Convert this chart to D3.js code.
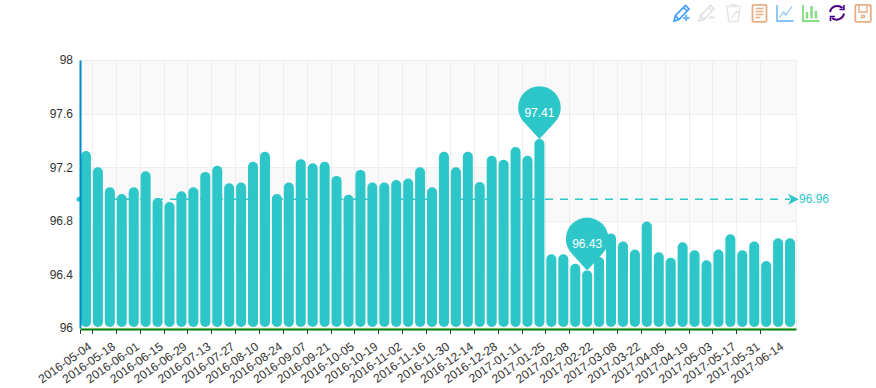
<!DOCTYPE html>
<html>
<head>
<meta charset="utf-8">
<script src="https://cdn.jsdelivr.net/npm/d3@7"></script>
<style>
    html, body { margin: 0; padding: 0; background: #fff; }
    svg { display: block; }
    text { font-family: "Liberation Sans", Arial, sans-serif; }
</style>
</head>
<body>
<div id="chart-container"></div>
<script>
// Weekly values
var weeks = ["2016-05-04","2016-05-11","2016-05-18","2016-05-25","2016-06-01","2016-06-08","2016-06-15","2016-06-22","2016-06-29","2016-07-06",
    "2016-07-13","2016-07-20","2016-07-27","2016-08-03","2016-08-10","2016-08-17","2016-08-24","2016-08-31","2016-09-07","2016-09-14",
    "2016-09-21","2016-09-28","2016-10-05","2016-10-12","2016-10-19","2016-10-26","2016-11-02","2016-11-09","2016-11-16","2016-11-23",
    "2016-11-30","2016-12-07","2016-12-14","2016-12-21","2016-12-28","2017-01-04","2017-01-11","2017-01-18","2017-01-25","2017-02-01",
    "2017-02-08","2017-02-15","2017-02-22","2017-03-01","2017-03-08","2017-03-15","2017-03-22","2017-03-29","2017-04-05","2017-04-12",
    "2017-04-19","2017-04-26","2017-05-03","2017-05-10","2017-05-17","2017-05-24","2017-05-31","2017-06-07","2017-06-14","2017-06-21"];

var values = [97.32,97.2,97.05,97.0,97.05,97.17,96.97,96.94,97.02,97.05,
    97.165,97.21,97.08,97.085,97.24,97.315,97.0,97.085,97.26,97.23,
    97.24,97.135,96.995,97.18,97.085,97.085,97.105,97.115,97.2,97.05,
    97.315,97.2,97.315,97.09,97.285,97.255,97.35,97.285,97.41,96.55,
    96.55,96.48,96.43,96.53,96.705,96.645,96.585,96.795,96.565,96.525,
    96.64,96.58,96.505,96.585,96.7,96.58,96.645,96.5,96.67,96.67];

var yTicks = [96,96.4,96.8,97.2,97.6,98];
var meanValue = 96.96;
var pinWeeks = ["2017-01-25","2017-02-22"];
var pinValues = [97.41,96.43];

var width = 876, height = 388;
var margin = {top: 60, right: 80, bottom: 60, left: 80};
var teal = "#2ec7c9";

var svg = d3.select("#chart-container").append("svg")
    .attr("width", width)
    .attr("height", height);

var x = d3.scaleBand().domain(weeks).range([margin.left, width - margin.right]);
var y = d3.scaleLinear().domain([96,98]).range([height - margin.bottom, margin.top]);

// Snap hairlines to whole pixels
var crisp = v => Math.round(v) + 0.5;

// Alternating bands behind the grid
var bandPairs = d3.pairs(yTicks);
svg.append("g").selectAll("rect")
    .data(bandPairs)
    .join("rect")
    .attr("x", x.range()[0])
    .attr("width", x.range()[1] - x.range()[0])
    .attr("y", d => Math.round(y(d[1])))
    .attr("height", d => Math.round(y(d[0])) - Math.round(y(d[1])))
    .attr("fill", (d,i) => i % 2 ? "#fff" : "#f9f9f9");

// The x ticks sit on band edges: first one on the axis, then before every labelled week's neighbour
var labelled = weeks.filter((d,i) => i % 2 == 0);
var tickX = (d,i) => crisp(i == 0 ? x(d) : x(d) - x.bandwidth());

svg.append("g")
    .attr("stroke", "#eee")
    .selectAll("line")
    .data(labelled)
    .join("line")
    .attr("x1", tickX).attr("x2", tickX)
    .attr("y1", y(98)).attr("y2", y(96));

svg.append("line")
    .attr("x1", crisp(x.range()[1])).attr("x2", crisp(x.range()[1]))
    .attr("y1", y(98)).attr("y2", y(96))
    .attr("stroke", "#eee");

svg.append("g")
    .attr("stroke", "#eee")
    .selectAll("line")
    .data(yTicks)
    .join("line")
    .attr("x1", x.range()[0]).attr("x2", x.range()[1])
    .attr("y1", d => crisp(y(d))).attr("y2", d => crisp(y(d)));

// Mean line under the bars
svg.append("line")
    .attr("x1", x.range()[0]).attr("x2", x.range()[1] - 6)
    .attr("y1", y(meanValue)).attr("y2", y(meanValue))
    .attr("stroke", teal)
    .attr("stroke-width", 1.5)
    .attr("stroke-dasharray", "8,7");

svg.append("circle")
    .attr("cx", x.range()[0] - 1)
    .attr("cy", y(meanValue))
    .attr("r", 2.5)
    .attr("fill", teal);

svg.append("path")
    .attr("d", d3.line()([[x.range()[1] + 3, y(meanValue)], [x.range()[1] - 8, y(meanValue) - 5.5], [x.range()[1] - 5, y(meanValue)], [x.range()[1] - 8, y(meanValue) + 5.5]]) + "Z")
    .attr("fill", teal);

svg.append("text")
    .attr("x", x.range()[1] + 3)
    .attr("y", y(meanValue) + 4)
    .attr("font-size", 12)
    .attr("fill", teal)
    .text(meanValue);

// Bars, fully rounded like the original
var barW = 10;
svg.append("g")
    .attr("fill", teal)
    .selectAll("rect")
    .data(weeks)
    .join("rect")
    .attr("x", d => x(d) + (x.bandwidth() - barW)/2)
    .attr("width", barW)
    .attr("y", (d,i) => y(values[i]))
    .attr("height", (d,i) => y(96) - y(values[i]) - 1)
    .attr("rx", 5)
    .attr("ry", 5);

// Axes
var yAxis = d3.axisLeft(y)
    .tickValues(yTicks)
    .tickFormat(d => d)
    .tickSize(0)
    .tickPadding(7);

svg.append("g")
    .attr("transform", `translate(${margin.left},0)`)
    .call(yAxis)
    .call(g => g.select(".domain").attr("stroke", "#008acd").attr("stroke-width", 2))
    .call(g => g.selectAll("text").attr("font-size", 12).attr("fill", "#333").style("font-family", "'Liberation Sans'"));

var xAxis = d3.axisBottom(x)
    .tickValues(labelled)
    .tickSize(0)
    .tickPadding(0);

svg.append("g")
    .attr("transform", `translate(0,${y(96) + 1})`)
    .call(xAxis)
    .call(g => g.select(".domain").attr("stroke", "#008000").attr("stroke-width", 2))
    .call(g => g.selectAll(".tick text")
        .attr("font-size", 12)
        .attr("fill", "#333")
        .style("font-family", "'Liberation Sans'")
        .attr("text-anchor", "end")
        .attr("x", 0).attr("y", 0).attr("dy", "0.35em")
        .attr("transform", "translate(4,16) rotate(-35)"));

svg.append("g")
    .attr("stroke", "#333")
    .selectAll("line")
    .data(labelled)
    .join("line")
    .attr("x1", tickX).attr("x2", tickX)
    .attr("y1", y(96) + 2).attr("y2", y(96) + 6);

// Pins for the max and min
function pinPath(cx, tipY, r, tipDist) {
    let a = Math.acos(r / tipDist);
    let cy = tipY - tipDist;
    let p = d3.path();
    p.moveTo(cx, tipY);
    p.lineTo(cx + r*Math.sin(a), cy + r*Math.cos(a));
    p.arc(cx, cy, r, Math.PI/2 - a, Math.PI/2 + a, true);
    p.closePath();
    return p.toString();
}

var pins = svg.append("g")
    .selectAll("g")
    .data(pinWeeks)
    .join("g");

pins.append("path")
    .attr("d", (d,i) => pinPath(x(d) + x.bandwidth()/2, y(pinValues[i]), 21.3, 31.5))
    .attr("fill", teal);

pins.append("text")
    .attr("x", d => x(d) + x.bandwidth()/2)
    .attr("y", (d,i) => y(pinValues[i]) - 22)
    .attr("text-anchor", "middle")
    .attr("font-size", 12)
    .attr("fill", "#fff")
    .text((d,i) => pinValues[i]);

// Toolbox icons
var tools = svg.append("g").attr("fill", "none").attr("stroke-width", 1.6);

function icon(tx, color, draw) {
    let g = tools.append("g").attr("transform", `translate(${tx},4)`).attr("stroke", color);
    draw(g);
}

var pencil = "M1,17 L2.5,11.5 L12.5,1.5 L16,5 L6,15.5 Z M10.5,3.5 L14,7 M2.5,11.5 L6,15.5";

icon(673, "#3d9bff", g => {
    g.append("path").attr("d", pencil);
    g.append("path").attr("d", "M10,14 H16.5 M13.2,10.8 V17").attr("stroke", "#6db4ff").attr("stroke-width", 2);
});
icon(698, "#e2e2e2", g => {
    g.append("path").attr("d", pencil);
    g.append("path").attr("d", "M11,13.5 H17").attr("stroke-width", 2);
});
icon(725, "#e6e6e6", g => {
    g.append("path").attr("d", "M0,2.5 H17 M5,0.8 H12 M2,4 L4,17.5 H13 L15,4 M6.5,14 L12,7.5 L14,9");
});
icon(751.5, "#e8ae85", g => {
    g.append("rect").attr("x", 1).attr("y", 0.8).attr("width", 14).attr("height", 17).attr("rx", 1).attr("stroke-width", 1.8);
    g.append("path").attr("d", "M4,4.5 H12 M4,7.5 H12 M4,10.5 H12 M4,13.5 H9").attr("stroke-width", 1.4);
});
icon(776, "#87c3fa", g => {
    g.append("path").attr("d", "M1,1 V17 H17.5").attr("stroke-width", 1.8);
    g.append("path").attr("d", "M3.5,13.5 L7.5,8 L10,11 L16,2.5").attr("stroke-width", 1.2);
});
icon(802, "#84dc84", g => {
    g.append("path").attr("d", "M1,1 V17 H17.5").attr("stroke-width", 1.8);
    g.append("path").attr("d", "M5,14.5 V8 M9.5,14.5 V2 M14,14.5 V7").attr("stroke-width", 2.4);
});
icon(828, "#4b0082", g => {
    g.append("path").attr("d", "M2,8 A7.5,7.5 0 0 1 14.5,4 M16,9.5 A7.5,7.5 0 0 1 4,14").attr("stroke-width", 2);
    g.append("path").attr("d", "M16,1 V5.5 H11.5 M2.5,17 V12.5 H7").attr("stroke-width", 1.6);
});
icon(854.5, "#e8ae85", g => {
    g.append("rect").attr("x", 0.8).attr("y", 0.8).attr("width", 15.5).attr("height", 17).attr("rx", 1).attr("stroke-width", 1.8);
    g.append("path").attr("d", "M4.5,1 V8 H12.5 V1 M7,11.5 H10 V13.5 H7 Z").attr("stroke-width", 1.4);
});
</script>
</body>
</html>
